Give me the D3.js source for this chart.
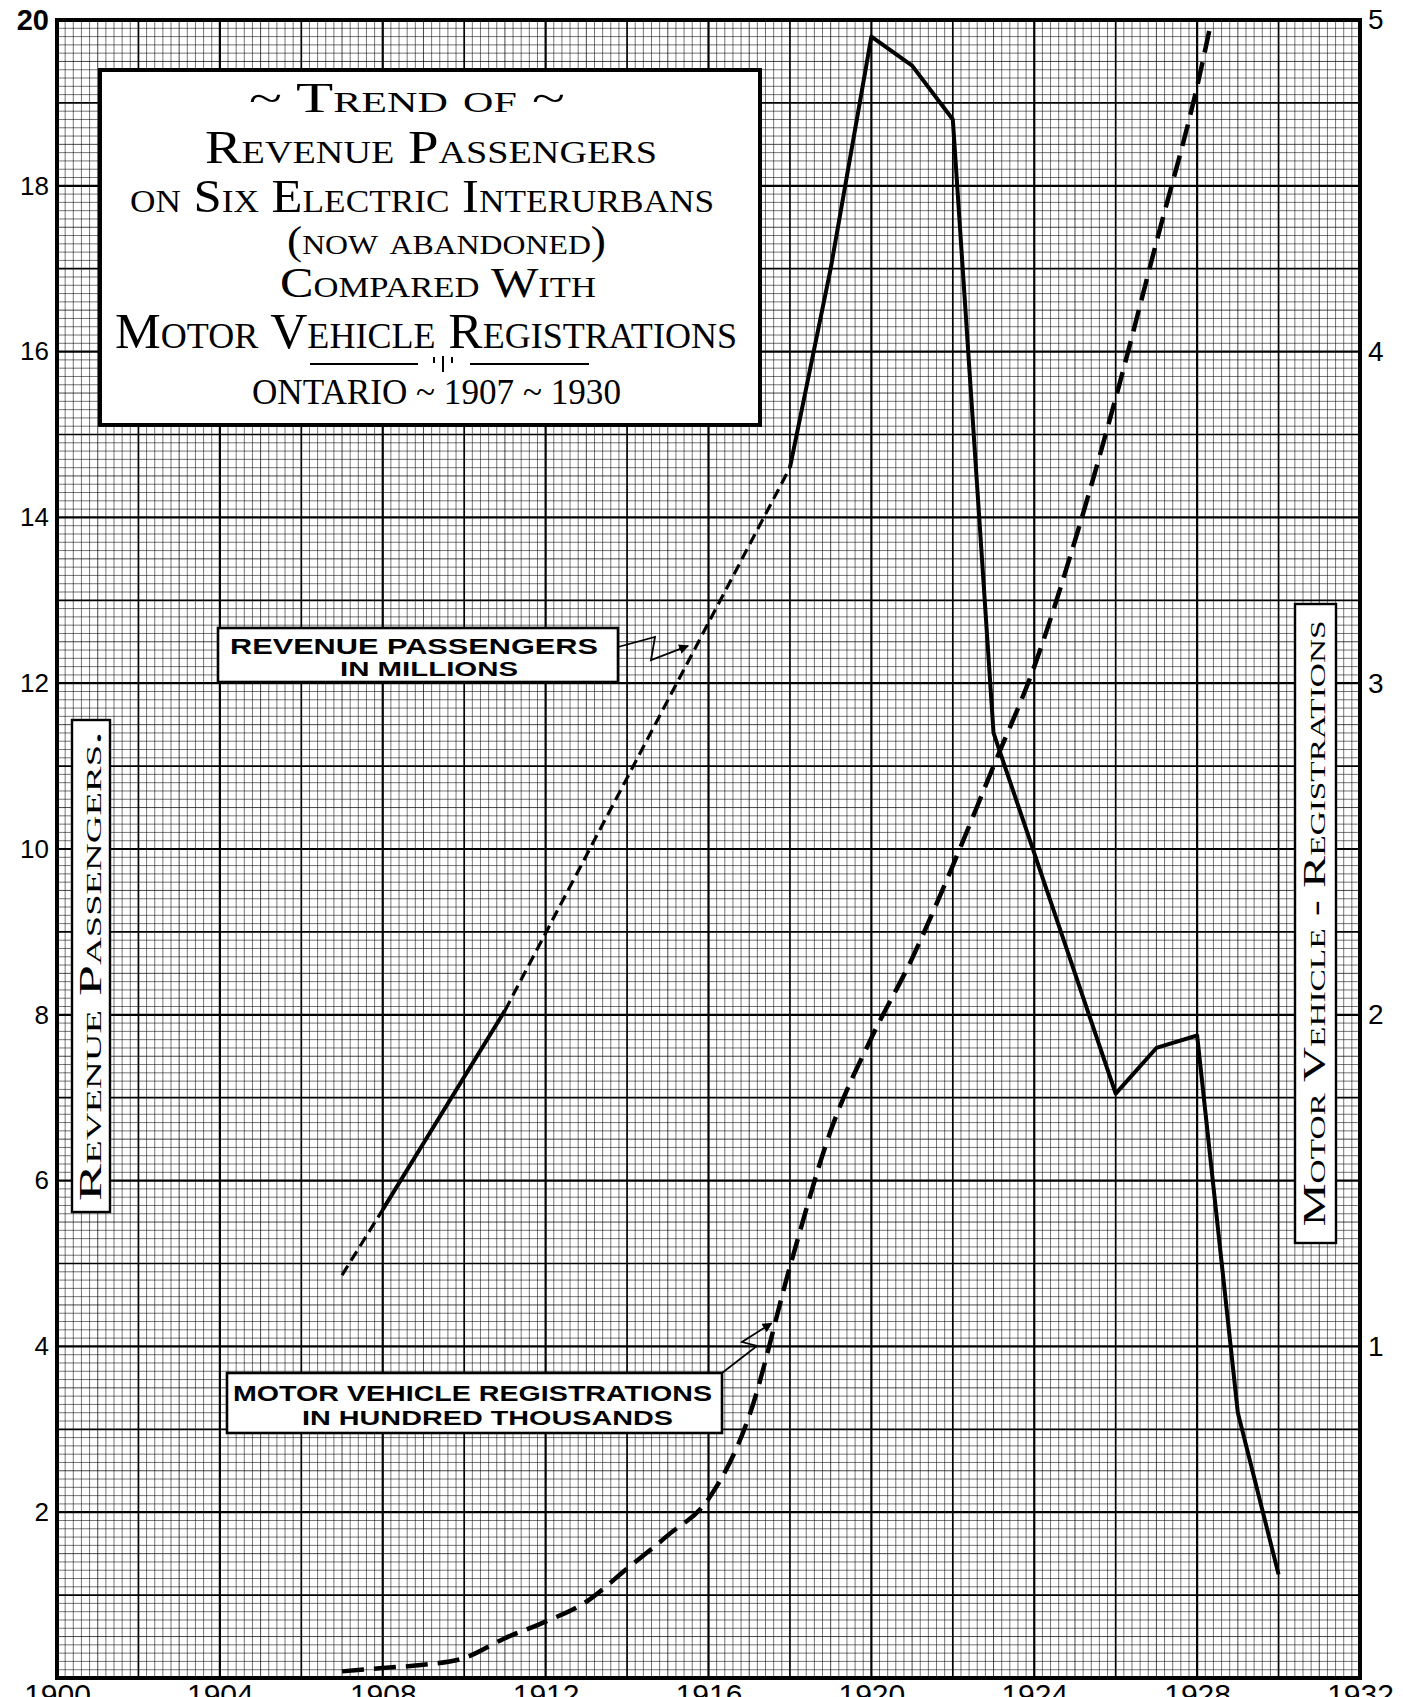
<!DOCTYPE html>
<html>
<head>
<meta charset="utf-8">
<script src="https://cdn.jsdelivr.net/npm/d3@7"></script>
<style>
  html, body { margin: 0; padding: 0; background: #fff; }
  svg { display: block; }
</style>
</head>
<body>
<div id="chart"></div>
<script>
// revenue passengers, millions (left axis)
const passYears = [1907, 1908, 1909, 1911, 1918, 1919, 1920, 1921, 1922, 1923, 1924, 1925, 1926, 1927, 1928, 1929, 1930];
const passValues = [4.86, 5.65, 6.45, 8.05, 14.6, 17.0, 19.8, 19.45, 18.8, 11.4, 9.95, 8.5, 7.05, 7.6, 7.75, 3.2, 1.25];
// 1 = the stretch after this point is drawn dashed (estimated)
const passEstimated = [1, 0, 0, 1, 0, 0, 0, 0, 0, 0, 0, 0, 0, 0, 0, 0, 0];

// motor vehicle registrations, hundred thousands (right axis)
const motorYears = [1907, 1908, 1909, 1910, 1911, 1912, 1913, 1914, 1915, 1916, 1917, 1918, 1919,
                    1920, 1921, 1922, 1923, 1924, 1925, 1926, 1927, 1928, 1929];
const motorValues = [0.02, 0.03, 0.04, 0.06, 0.12, 0.17, 0.23, 0.33, 0.43, 0.54, 0.79, 1.24, 1.65,
                     1.93, 2.17, 2.45, 2.75, 3.05, 3.43, 3.86, 4.33, 4.8, 5.4];

const yearTicks = [1900, 1904, 1908, 1912, 1916, 1920, 1924, 1928, 1932];
const leftTicks = [2, 4, 6, 8, 10, 12, 14, 16, 18, 20];
const rightTicks = [1, 2, 3, 4, 5];

const titleLines = ['~ Trend of ~', 'Revenue  Passengers', 'on Six Electric Interurbans', '(now abandoned)',
                    'Compared With', 'Motor Vehicle  Registrations', 'ONTARIO ~ 1907 ~ 1930'];
const passLabel = ['REVENUE  PASSENGERS', 'IN MILLIONS'];
const motorLabel = ['MOTOR  VEHICLE REGISTRATIONS', 'IN HUNDRED THOUSANDS'];
const leftTitle = 'Revenue  Passengers.';
const rightTitle = 'Motor Vehicle - Registrations';

const W = 1403, H = 1697;
const plot = {left: 57, right: 1360, top: 20, bottom: 1678};

const x = d3.scaleLinear().domain([1900, 1932]).range([plot.left, plot.right]);
const yL = d3.scaleLinear().domain([0, 20]).range([plot.bottom, plot.top]);
const yR = d3.scaleLinear().domain([0, 5]).range([plot.bottom, plot.top]);

const attrs = (sel, a) => { for (const k in a) sel.attr(k, a[k]); return sel; };

const svg = d3.select('#chart').append('svg').attr('width', W).attr('height', H);
svg.append('rect').attr('width', W).attr('height', H).attr('fill', '#fff');

const defs = svg.append('defs');
defs.append('clipPath').attr('id', 'plotclip').append('rect')
  .attr('x', plot.left).attr('y', plot.top)
  .attr('width', plot.right - plot.left).attr('height', plot.bottom - plot.top);
const marker = defs.append('marker');
attrs(marker, {id: 'tri', viewBox: '0 0 10 10', refX: 9, refY: 5, markerWidth: 10, markerHeight: 10,
  markerUnits: 'userSpaceOnUse', orient: 'auto'});
marker.append('path').attr('d', 'M0,0 L10,5 L0,10 z').attr('fill', '#000');

// graph paper
const weight = (i) => i % 20 === 0 ? 2.2 : i % 10 === 0 ? 1.7 : i % 5 === 0 ? 1.0 : 0.75;
const grid = svg.append('g').attr('stroke', '#000');
grid.selectAll('line.vx').data(d3.range(0, 161)).join('line')
  .attr('class', 'vx')
  .attr('x1', i => x(1900 + i * 0.2)).attr('x2', i => x(1900 + i * 0.2))
  .attr('y1', plot.top).attr('y2', plot.bottom)
  .attr('stroke-width', weight)
  .attr('stroke-opacity', i => i % 10 === 0 ? 1 : 0.72);
grid.selectAll('line.hy').data(d3.range(0, 201)).join('line')
  .attr('class', 'hy')
  .attr('y1', i => yL(i * 0.1)).attr('y2', i => yL(i * 0.1))
  .attr('x1', plot.left).attr('x2', plot.right)
  .attr('stroke-width', weight)
  .attr('stroke-opacity', i => i % 10 === 0 ? 1 : 0.72);

svg.append('rect')
  .attr('x', plot.left).attr('y', plot.top)
  .attr('width', plot.right - plot.left).attr('height', plot.bottom - plot.top)
  .attr('fill', 'none').attr('stroke', '#000').attr('stroke-width', 4);

// axes
const tickFont = '"Liberation Sans", Arial, sans-serif';
const ax = (g) => {
  g.select('.domain').remove();
  g.selectAll('.tick line').remove();
  g.selectAll('.tick text').attr('font-family', tickFont).attr('fill', '#000');
};
svg.append('g').attr('transform', `translate(${plot.left - 8},0)`)
  .call(d3.axisLeft(yL).tickValues(leftTicks).tickSize(0).tickPadding(0).tickFormat(d3.format('d')))
  .call(ax)
  .call(g => g.selectAll('.tick text')
    .attr('font-size', d => d === 20 ? 29 : 26)
    .attr('font-weight', d => d === 20 ? 'bold' : 'normal'));
svg.append('g').attr('transform', `translate(${plot.right + 8},0)`)
  .call(d3.axisRight(yR).tickValues(rightTicks).tickSize(0).tickPadding(0).tickFormat(d3.format('d')))
  .call(ax)
  .call(g => g.selectAll('.tick text').attr('font-size', 28));
svg.append('g').attr('transform', `translate(0,${plot.bottom + 5})`)
  .call(d3.axisBottom(x).tickValues(yearTicks).tickSize(0).tickPadding(0).tickFormat(d3.format('d')))
  .call(ax)
  .call(g => g.selectAll('.tick text').attr('font-size', 30).attr('dy', '0.72em'));

// series
const lines = svg.append('g').attr('clip-path', 'url(#plotclip)').attr('fill', 'none')
  .attr('stroke', '#000').attr('stroke-linejoin', 'round');

const motorPts = motorYears.map((yr, i) => [yr, motorValues[i]]);
lines.append('path')
  .attr('d', d3.line().x(d => x(d[0])).y(d => yR(d[1])).curve(d3.curveMonotoneX)(motorPts))
  .attr('stroke-width', 4.5).attr('stroke-dasharray', '22 10');

const passLine = d3.line().x(d => x(d[0])).y(d => yL(d[1]));
for (let i = 0; i < passYears.length - 1; ) {
  const est = passEstimated[i];
  const seg = [[passYears[i], passValues[i]]];
  let j = i;
  while (j < passYears.length - 1 && passEstimated[j] === est) {
    j++;
    seg.push([passYears[j], passValues[j]]);
  }
  lines.append('path').attr('d', passLine(seg))
    .attr('stroke-width', est ? 3.2 : 4)
    .attr('stroke-dasharray', est ? '11 6' : null);
  i = j;
}

// title block
const serif = '"Liberation Serif", "DejaVu Serif", serif';
const tbox = {x0: 100, y0: 70, x1: 760, y1: 425};
svg.append('rect').attr('x', tbox.x0).attr('y', tbox.y0)
  .attr('width', tbox.x1 - tbox.x0).attr('height', tbox.y1 - tbox.y0)
  .attr('fill', '#fff').attr('stroke', '#000').attr('stroke-width', 4);
const titleLayout = [
  {x: 249, y: 112, len: 316, fs: 42},
  {x: 205, y: 163, len: 452, fs: 46},
  {x: 130, y: 212, len: 584, fs: 46},
  {x: 287, y: 254, len: 319, fs: 40},
  {x: 280, y: 297, len: 316, fs: 42},
  {x: 115, y: 348, len: 622, fs: 50},
  {x: 252, y: 404, len: 369, fs: 36}
];
svg.append('g').selectAll('text').data(titleLines).join('text')
  .attr('x', (d, i) => titleLayout[i].x).attr('y', (d, i) => titleLayout[i].y)
  .attr('font-size', (d, i) => titleLayout[i].fs)
  .attr('textLength', (d, i) => titleLayout[i].len)
  .attr('lengthAdjust', 'spacingAndGlyphs')
  .attr('font-family', serif).style('font-variant', 'small-caps')
  .attr('fill', '#000').text(d => d);
const rule = svg.append('g').attr('stroke', '#000').attr('stroke-width', 2);
rule.append('line').attr('x1', 310).attr('x2', 418).attr('y1', 364).attr('y2', 364);
rule.append('line').attr('x1', 470).attr('x2', 589).attr('y1', 364).attr('y2', 364);
rule.append('line').attr('x1', 443).attr('x2', 443).attr('y1', 356).attr('y2', 372);
rule.append('line').attr('x1', 434).attr('x2', 434).attr('y1', 357).attr('y2', 363);
rule.append('line').attr('x1', 452).attr('x2', 452).attr('y1', 357).attr('y2', 363);

// labelled boxes with arrows
const sansBold = '"Liberation Sans", Arial, sans-serif';
const labelBox = (b, txt, rows, tip, zig) => {
  svg.append('rect').attr('x', b.x0).attr('y', b.y0)
    .attr('width', b.x1 - b.x0).attr('height', b.y1 - b.y0)
    .attr('fill', '#fff').attr('stroke', '#000').attr('stroke-width', 2.6);
  svg.append('g').selectAll('text').data(txt).join('text')
    .attr('x', (d, i) => rows[i].x).attr('y', (d, i) => rows[i].y)
    .attr('textLength', (d, i) => rows[i].len).attr('lengthAdjust', 'spacingAndGlyphs')
    .attr('font-size', (d, i) => rows[i].fs).attr('font-weight', 'bold')
    .attr('font-family', sansBold).attr('fill', '#000').text(d => d);
  const pts = zig.concat([tip]);
  svg.append('path').attr('d', d3.line()(pts)).attr('fill', 'none')
    .attr('stroke', '#000').attr('stroke-width', 1.8).attr('marker-end', 'url(#tri)');
};

const passTip = [x(1915.5), yL(12.45)];
labelBox({x0: 218, y0: 628, x1: 618, y1: 682}, passLabel,
  [{x: 230, y: 654, len: 368, fs: 22}, {x: 340, y: 676, len: 178, fs: 20}],
  passTip, [[618, 647], [655, 637], [651, 660]]);

const motorTip = [x(1917.55), yR(1.07)];
labelBox({x0: 227, y0: 1373, x1: 722, y1: 1433}, motorLabel,
  [{x: 233, y: 1401, len: 479, fs: 22}, {x: 302, y: 1425, len: 371, fs: 21}],
  motorTip, [[722, 1373], [757, 1346], [742, 1342]]);

// axis titles in boxes
const vTitle = (b, txt, len, fs) => {
  svg.append('rect').attr('x', b.x0).attr('y', b.y0)
    .attr('width', b.x1 - b.x0).attr('height', b.y1 - b.y0)
    .attr('fill', '#fff').attr('stroke', '#000').attr('stroke-width', 2.4);
  const cx = (b.x0 + b.x1) / 2 + fs * 0.3, cy = (b.y0 + b.y1) / 2;
  svg.append('text').attr('transform', `translate(${cx},${cy}) rotate(-90)`)
    .attr('text-anchor', 'middle').attr('font-size', fs)
    .attr('textLength', len).attr('lengthAdjust', 'spacingAndGlyphs')
    .attr('font-family', serif).style('font-variant', 'small-caps')
    .attr('fill', '#000').text(txt);
};
vTitle({x0: 72, y0: 720, x1: 110, y1: 1212}, leftTitle, 470, 32);
vTitle({x0: 1295, y0: 604, x1: 1336, y1: 1243}, rightTitle, 606, 32);
</script>
</body>
</html>
